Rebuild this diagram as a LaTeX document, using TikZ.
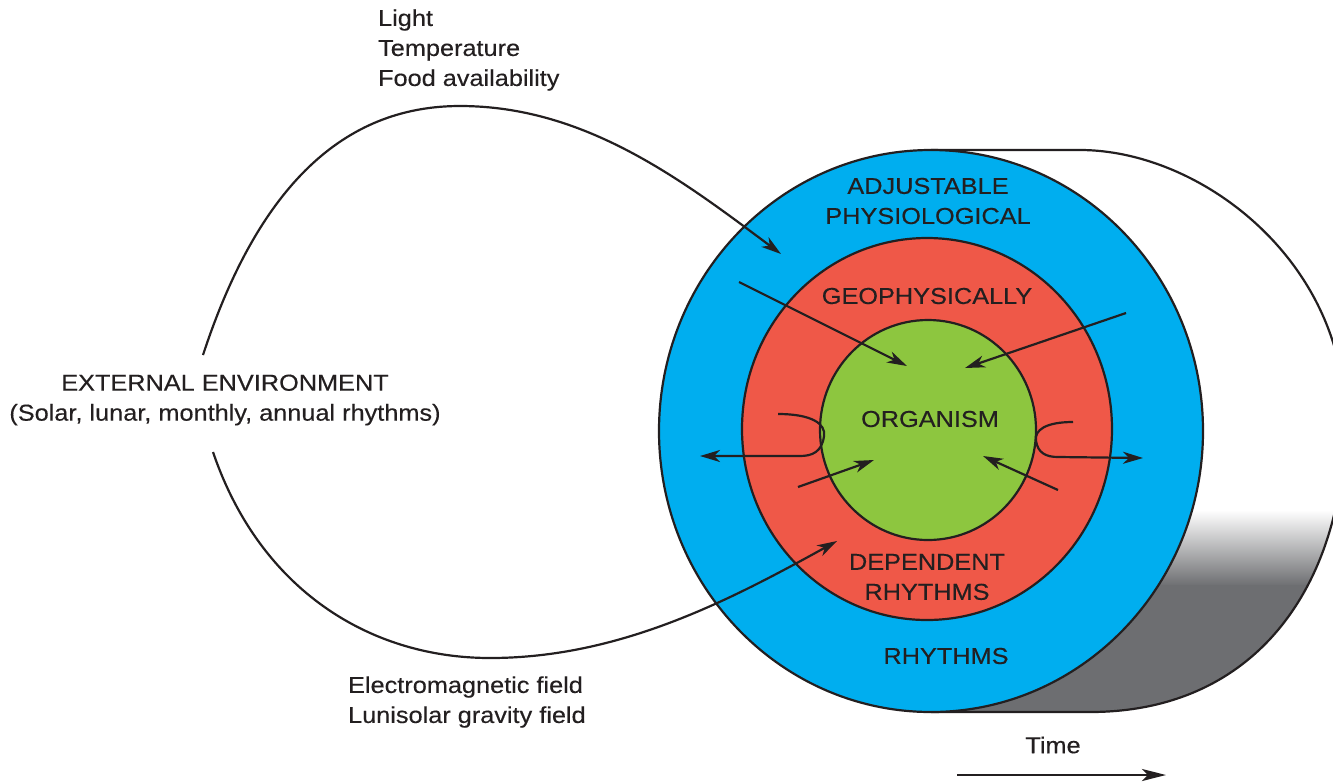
\documentclass[tikz,border=0pt]{standalone}
\usepackage{fontspec}
\setmainfont{Liberation Sans}[FakeStretch=1.1,FakeBold=0.3]
\usetikzlibrary{arrows.meta}
\definecolor{ring_blue}{RGB}{0,174,239}
\definecolor{ring_red}{RGB}{239,88,72}
\definecolor{ring_green}{RGB}{141,198,63}
\definecolor{shade_gray}{RGB}{109,110,113}
\definecolor{ink}{RGB}{35,31,32}

\begin{document}
\begin{tikzpicture}[->,line width=1.1pt,>={Stealth[length=10pt,width=6pt,inset=3pt]},x=0.5pt,y=-0.5pt,draw=ink]
    \tikzstyle{label}=[text=ink, align=center, inner sep=0pt, font=\fontsize{11.5}{15}\selectfont]
    \tikzstyle{ring}=[draw=ink, line width=1.1pt, -]
    \useasboundingbox (0,0) rectangle (1333,783);

    % cylinder behind the rings
    \begin{scope}
      \clip (931,150) -- (1080,150) .. controls (1200,150) and (1345,260) .. (1345,420)
            .. controls (1345,580) and (1260,712) .. (1090,712) -- (931,712) -- cycle;
      \fill[top color=white, bottom color=shade_gray] (900,510) rectangle (1350,586);
      \fill[shade_gray] (900,585) rectangle (1350,715);
    \end{scope}
    \draw[-] (931,150) -- (1080,150) .. controls (1200,150) and (1345,260) .. (1345,420)
            .. controls (1345,580) and (1260,712) .. (1090,712) -- (931,712);

    % rings
    \draw[ring, fill=ring_blue]  (931,431) ellipse [x radius=272, y radius=281];
    \draw[ring, fill=ring_red]   (927,429) ellipse [x radius=185, y radius=191];
    \draw[ring, fill=ring_green] (928,430) ellipse [x radius=108, y radius=110];

    \node[label] (adjust) at (928,201) {ADJUSTABLE\\PHYSIOLOGICAL};
    \node[label] (geo)    at (927,296) {GEOPHYSICALLY};
    \node[label] (org)    at (930,419) {ORGANISM};
    \node[label] (dep)    at (927,577) {DEPENDENT\\RHYTHMS};
    \node[label] (rhy)    at (946,656) {RHYTHMS};

    \node[label, align=left, anchor=west] (inputs) at (377,50)  {Light\\Temperature\\Food availability};
    \node[label] (env) at (225,400) {EXTERNAL ENVIRONMENT\\(Solar, lunar, monthly, annual rhythms)};
    \node[label, align=left, anchor=west] (fields) at (347,702) {Electromagnetic field\\Lunisolar gravity field};
    \node[label] (time) at (1053,745) {Time};

    \coordinate (envA)    at (203,355);
    \coordinate (loopTop) at (460,106);
    \coordinate (physIn)  at (781,254);
    \coordinate (envB)    at (213,452);
    \coordinate (loopBot) at (490,658);
    \coordinate (depIn)   at (837,541);

    \coordinate (geoA) at (739,282);   \coordinate (orgA) at (907,366);
    \coordinate (geoB) at (1126,313);  \coordinate (orgB) at (965,368);
    \coordinate (depA) at (798,487);   \coordinate (orgC) at (874,460);
    \coordinate (depB) at (1058,490);  \coordinate (orgD) at (983,456);
    \coordinate (hookL) at (778,414);  \coordinate (outL) at (700,456);
    \coordinate (hookR) at (1073,422); \coordinate (outR) at (1143,458);
    \coordinate (timeA) at (957,775);  \coordinate (timeB) at (1166,775);

    \draw (envA) .. controls (262,175) and (352,106) .. (loopTop)
                 .. controls (585,106) and (682,180) .. (physIn);
    \draw (envB) .. controls (260,590) and (370,658) .. (loopBot)
                 .. controls (620,658) and (730,600) .. (depIn);
    \path
     (geoA) edge[] (orgA)
     (geoB) edge[] (orgB)
     (depA) edge[] (orgC)
     (depB) edge[] (orgD)
     (timeA) edge[line width=1.4pt, >={Stealth[length=12pt,width=6pt,inset=3pt]}] (timeB)
     ;
    \draw (hookL) .. controls (812,414) and (826,424) .. (824,436) .. controls (822,452) and (812,456) .. (800,456) -- (outL);
    \draw (hookR) .. controls (1046,422) and (1034,430) .. (1036,441) .. controls (1038,453) and (1046,457) .. (1058,457) -- (outR);
  \end{tikzpicture}
\end{document}
